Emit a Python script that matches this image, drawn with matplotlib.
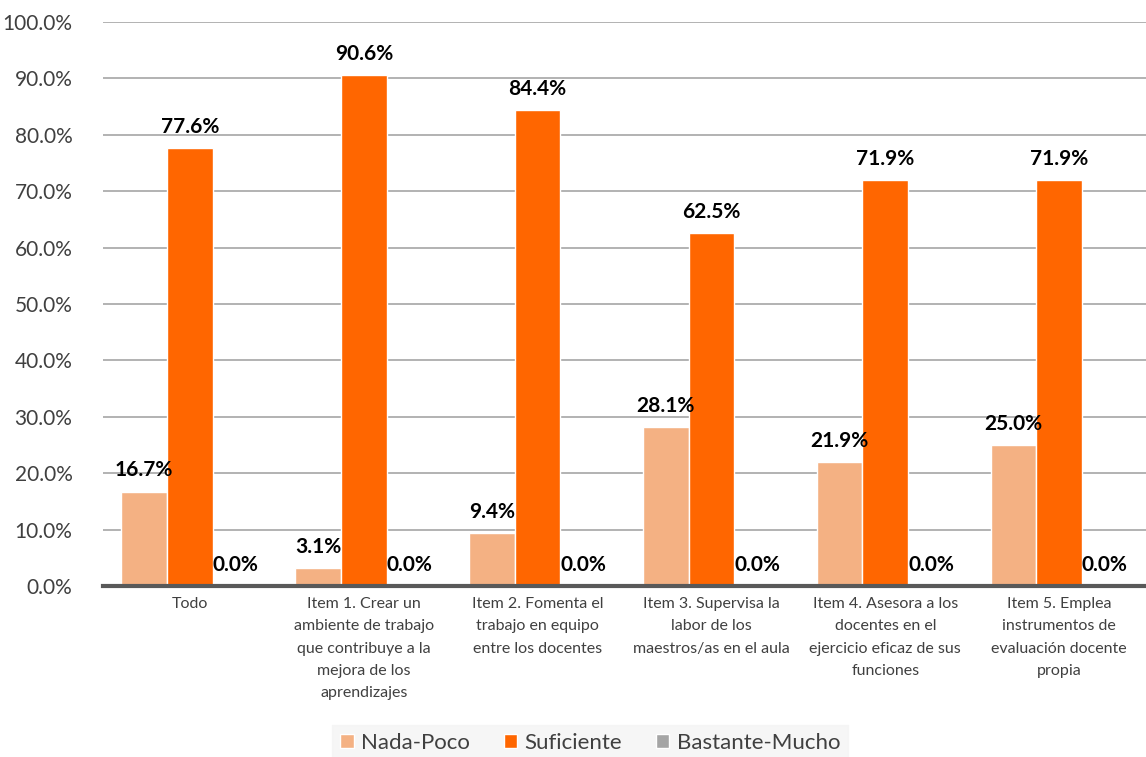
import matplotlib
matplotlib.use("Agg")
import matplotlib.pyplot as plt
import numpy as np
from matplotlib.ticker import FuncFormatter, MultipleLocator

categories = ["Todo",
              "Item 1. Crear un\nambiente de trabajo\nque contribuye a la\nmejora de los\naprendizajes",
              "Item 2. Fomenta el\ntrabajo en equipo\nentre los docentes",
              "Item 3. Supervisa la\nlabor de los\nmaestros/as en el aula",
              "Item 4. Asesora a los\ndocentes en el\nejercicio eficaz de sus\nfunciones",
              "Item 5. Emplea\ninstrumentos de\nevaluación docente\npropia"]
series_names = ["Nada-Poco", "Suficiente", "Bastante-Mucho"]
nada_poco = [16.7, 3.1, 9.4, 28.1, 21.9, 25.0]
suficiente = [77.6, 90.6, 84.4, 62.5, 71.9, 71.9]
bastante_mucho = [0.0, 0.0, 0.0, 0.0, 0.0, 0.0]
colors = ["#F4B183", "#FF6600", "#A5A5A5"]

plt.rcParams['font.family'] = ['Lato', 'DejaVu Sans']

fig = plt.figure(figsize=(11.46, 7.57), dpi=100)
ax = fig.add_axes([0.0899, 0.226, 0.9101, 0.745])

x = np.arange(len(categories))
w = 0.263
series = [nada_poco, suficiente, bastante_mucho]
for i, (vals, name, c) in enumerate(zip(series, series_names, colors)):
    pos = x + (i - 1) * w
    ax.bar(pos, vals, width=w, color=c, edgecolor="white", linewidth=1, label=name, zorder=3)
    for xp, v in zip(pos, vals):
        ax.text(xp, v + 2.0, f"{v:.1f}%", ha="center", va="bottom", fontsize=15,
                fontweight="bold", color="black", zorder=4)

ax.set_xlim(-0.5, len(categories) - 0.5)
ax.set_ylim(0, 100)
ax.yaxis.set_major_locator(MultipleLocator(10))
ax.yaxis.set_major_formatter(FuncFormatter(lambda v, p: f"{v:.1f}%"))
ax.grid(axis="y", color="#A6A6A6", linewidth=1.2, zorder=0)
for s in ["top", "right", "left"]:
    ax.spines[s].set_visible(False)
ax.spines["bottom"].set_color("#595959")
ax.spines["bottom"].set_linewidth(3)
ax.spines["bottom"].set_zorder(5)
ax.tick_params(axis="y", length=0, labelsize=15, labelcolor="#404040", pad=22)
ax.tick_params(axis="x", length=0, labelsize=11.5, labelcolor="#404040", pad=8)
ax.set_xticks(x)
ax.set_xticklabels(categories, linespacing=1.75)

leg = fig.legend(loc="lower center", bbox_to_anchor=(0.515, -0.02), ncol=3, frameon=True,
                 fontsize=16, handlelength=0.6, handleheight=0.6, handletextpad=0.35,
                 columnspacing=1.5, borderpad=0.35)
leg.get_frame().set_facecolor("#F4F4F4")
leg.get_frame().set_edgecolor("#F4F4F4")
leg.get_frame().set_boxstyle("square", pad=0)
for t in leg.get_texts():
    t.set_color("#404040")

fig.savefig("out.png", dpi=100)
